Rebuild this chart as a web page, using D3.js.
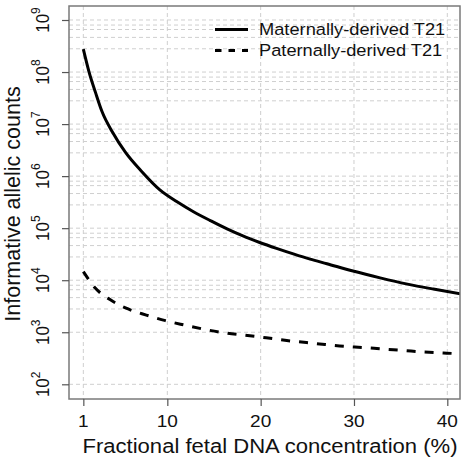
<!DOCTYPE html>
<html>
<head>
<meta charset="utf-8">
<script src="https://cdn.jsdelivr.net/npm/d3@7"></script>
<style>
  html, body { margin: 0; padding: 0; background: #fff; }
  svg { display: block; font-family: "Liberation Sans", Arial, sans-serif; }
</style>
</head>
<body>
<svg id="chart" width="468" height="467"></svg>
<script>
// ---- data ----
const maternalFraction = [1, 1.6, 2.3, 3, 4.1, 5.5, 7.3, 9.2, 11, 12.8, 14.6, 16.4, 18.1, 19.9, 21.7, 23.5, 25.3, 27.1, 29.9, 32.8, 35.6, 38.5, 41.4];
const maternalCounts = [2.75e8, 1.02e8, 4.07e7, 1.74e7, 7.1e6, 2.88e6, 1.2e6, 5.43e5, 3.24e5, 2.07e5, 1.40e5, 9.66e4, 7.08e4, 5.31e4, 4.09e4, 3.2e4, 2.54e4, 2.07e4, 1.5e4, 1.11e4, 8.5e3, 6.76e3, 5.5e3];
const paternalFraction = [1, 2.3, 3.9, 5.8, 7.75, 9.8, 11.8, 14.4, 16.4, 18.6, 20.6, 22.8, 24.9, 26.9, 28.9, 31, 33.1, 35.3, 37.4, 39.6, 41.3];
const paternalCounts = [1.46e4, 7.0e3, 4.2e3, 2.8e3, 2.14e3, 1.67e3, 1.38e3, 1.1e3, 960, 865, 782, 693, 635, 581, 537, 509, 476, 446, 417, 399, 387];
const xTicks = [1, 10, 20, 30, 40];
const yTickExponents = [2, 3, 4, 5, 6, 7, 8, 9];
const minorGridFactors = [0.8, 0.657, 0.463, 0.28];
const minorGridExponents = [4, 5, 6, 7, 8, 9];
const seriesNames = ["Maternally-derived T21", "Paternally-derived T21"];

// ---- layout ----
const svg = d3.select("#chart");
const L = 69, R = 460, T = 6, B = 399;
const SX = 1.12; // horizontal stretch of the glyphs in the reference

const x = d3.scaleLinear().domain([-0.536, 41.36]).range([L, R]);
const y = d3.scaleLog().domain([Math.pow(10, 1.7175), Math.pow(10, 9.269)]).range([B, T]);

svg.append("rect").attr("width", 468).attr("height", 467).attr("fill", "#fff");

svg.append("defs").append("clipPath").attr("id", "plotClip")
  .append("rect").attr("x", L).attr("y", T).attr("width", R - L).attr("height", B - T);

// ---- grid ----
const grid = svg.append("g").attr("stroke", "#cfcfcf").attr("stroke-width", 1).attr("stroke-dasharray", "4,3").attr("fill", "none");
xTicks.forEach(t => {
  grid.append("line").attr("x1", x(t)).attr("x2", x(t)).attr("y1", T).attr("y2", B);
});
const decadeVals = yTickExponents.map(e => Math.pow(10, e));
const hVals = decadeVals.slice();
minorGridExponents.forEach(e => minorGridFactors.forEach(f => hVals.push(f * Math.pow(10, e))));
hVals.forEach(v => {
  grid.append("line").attr("x1", L).attr("x2", R).attr("y1", y(v)).attr("y2", y(v));
});

// ---- lines ----
const lineGen = d3.line().x(d => x(d[0])).y(d => y(d[1])).curve(d3.curveMonotoneX);
const plotG = svg.append("g").attr("clip-path", "url(#plotClip)");
plotG.append("path")
  .datum(maternalFraction.map((f, i) => [f, maternalCounts[i]]))
  .attr("d", lineGen).attr("fill", "none").attr("stroke", "#000").attr("stroke-width", 3);
plotG.append("path")
  .datum(paternalFraction.map((f, i) => [f, paternalCounts[i]]))
  .attr("d", lineGen).attr("fill", "none").attr("stroke", "#000").attr("stroke-width", 3)
  .attr("stroke-dasharray", "9,9");

// ---- box ----
svg.append("rect").attr("x", L).attr("y", T).attr("width", R - L).attr("height", B - T)
  .attr("fill", "none").attr("stroke", "#7a7a7a").attr("stroke-width", 1.5);

// ---- x axis ----
const xAxis = d3.axisBottom(x).tickValues(xTicks).tickSize(7).tickFormat("");
const xg = svg.append("g").attr("transform", `translate(0,${B})`).call(xAxis);
xg.select(".domain").remove();
xg.selectAll(".tick line").attr("stroke", "#555").attr("stroke-width", 1.2);
xTicks.forEach(t => {
  svg.append("text")
    .attr("transform", `translate(${x(t)},427) scale(${SX},1)`)
    .attr("text-anchor", "middle").attr("font-size", 17).attr("fill", "#111")
    .text(d3.format("d")(t));
});

// ---- y axis ----
const yAxis = d3.axisLeft(y).tickValues(decadeVals).tickSize(7).tickFormat("");
const yg = svg.append("g").attr("transform", `translate(${L},0)`).call(yAxis);
yg.select(".domain").remove();
yg.selectAll(".tick line").attr("stroke", "#555").attr("stroke-width", 1.2);

yTickExponents.forEach(e => {
  const t = svg.append("text")
    .attr("transform", `translate(49,${y(Math.pow(10, e))}) scale(${SX},1) rotate(-90)`)
    .attr("text-anchor", "middle").attr("fill", "#111").attr("font-size", 17);
  t.append("tspan").text("10");
  t.append("tspan").attr("dy", -8).attr("font-size", 12).text(String(e));
});

// ---- titles ----
svg.append("text").attr("transform", `translate(270,452.5) scale(${SX * 0.985},1)`).attr("text-anchor", "middle")
  .attr("font-size", 20).attr("fill", "#111").text("Fractional fetal DNA concentration (%)");
svg.append("text").attr("transform", "translate(19.5,204) scale(1.05,1) rotate(-90)").attr("text-anchor", "middle")
  .attr("font-size", 21.5).attr("fill", "#111").text("Informative allelic counts");

// ---- legend ----
const leg = svg.append("g");
[0, 1].forEach(i => {
  const ly = 29.5 + i * 21;
  leg.append("line").attr("x1", 215).attr("x2", 248).attr("y1", ly).attr("y2", ly)
    .attr("stroke", "#000").attr("stroke-width", 3)
    .attr("stroke-dasharray", i === 1 ? "6.5,7" : null);
  leg.append("text").attr("transform", `translate(259,${ly + 5.5}) scale(${SX},1)`)
    .attr("font-size", 16.3).attr("fill", "#111")
    .text(seriesNames[i]);
});
</script>
</body>
</html>
